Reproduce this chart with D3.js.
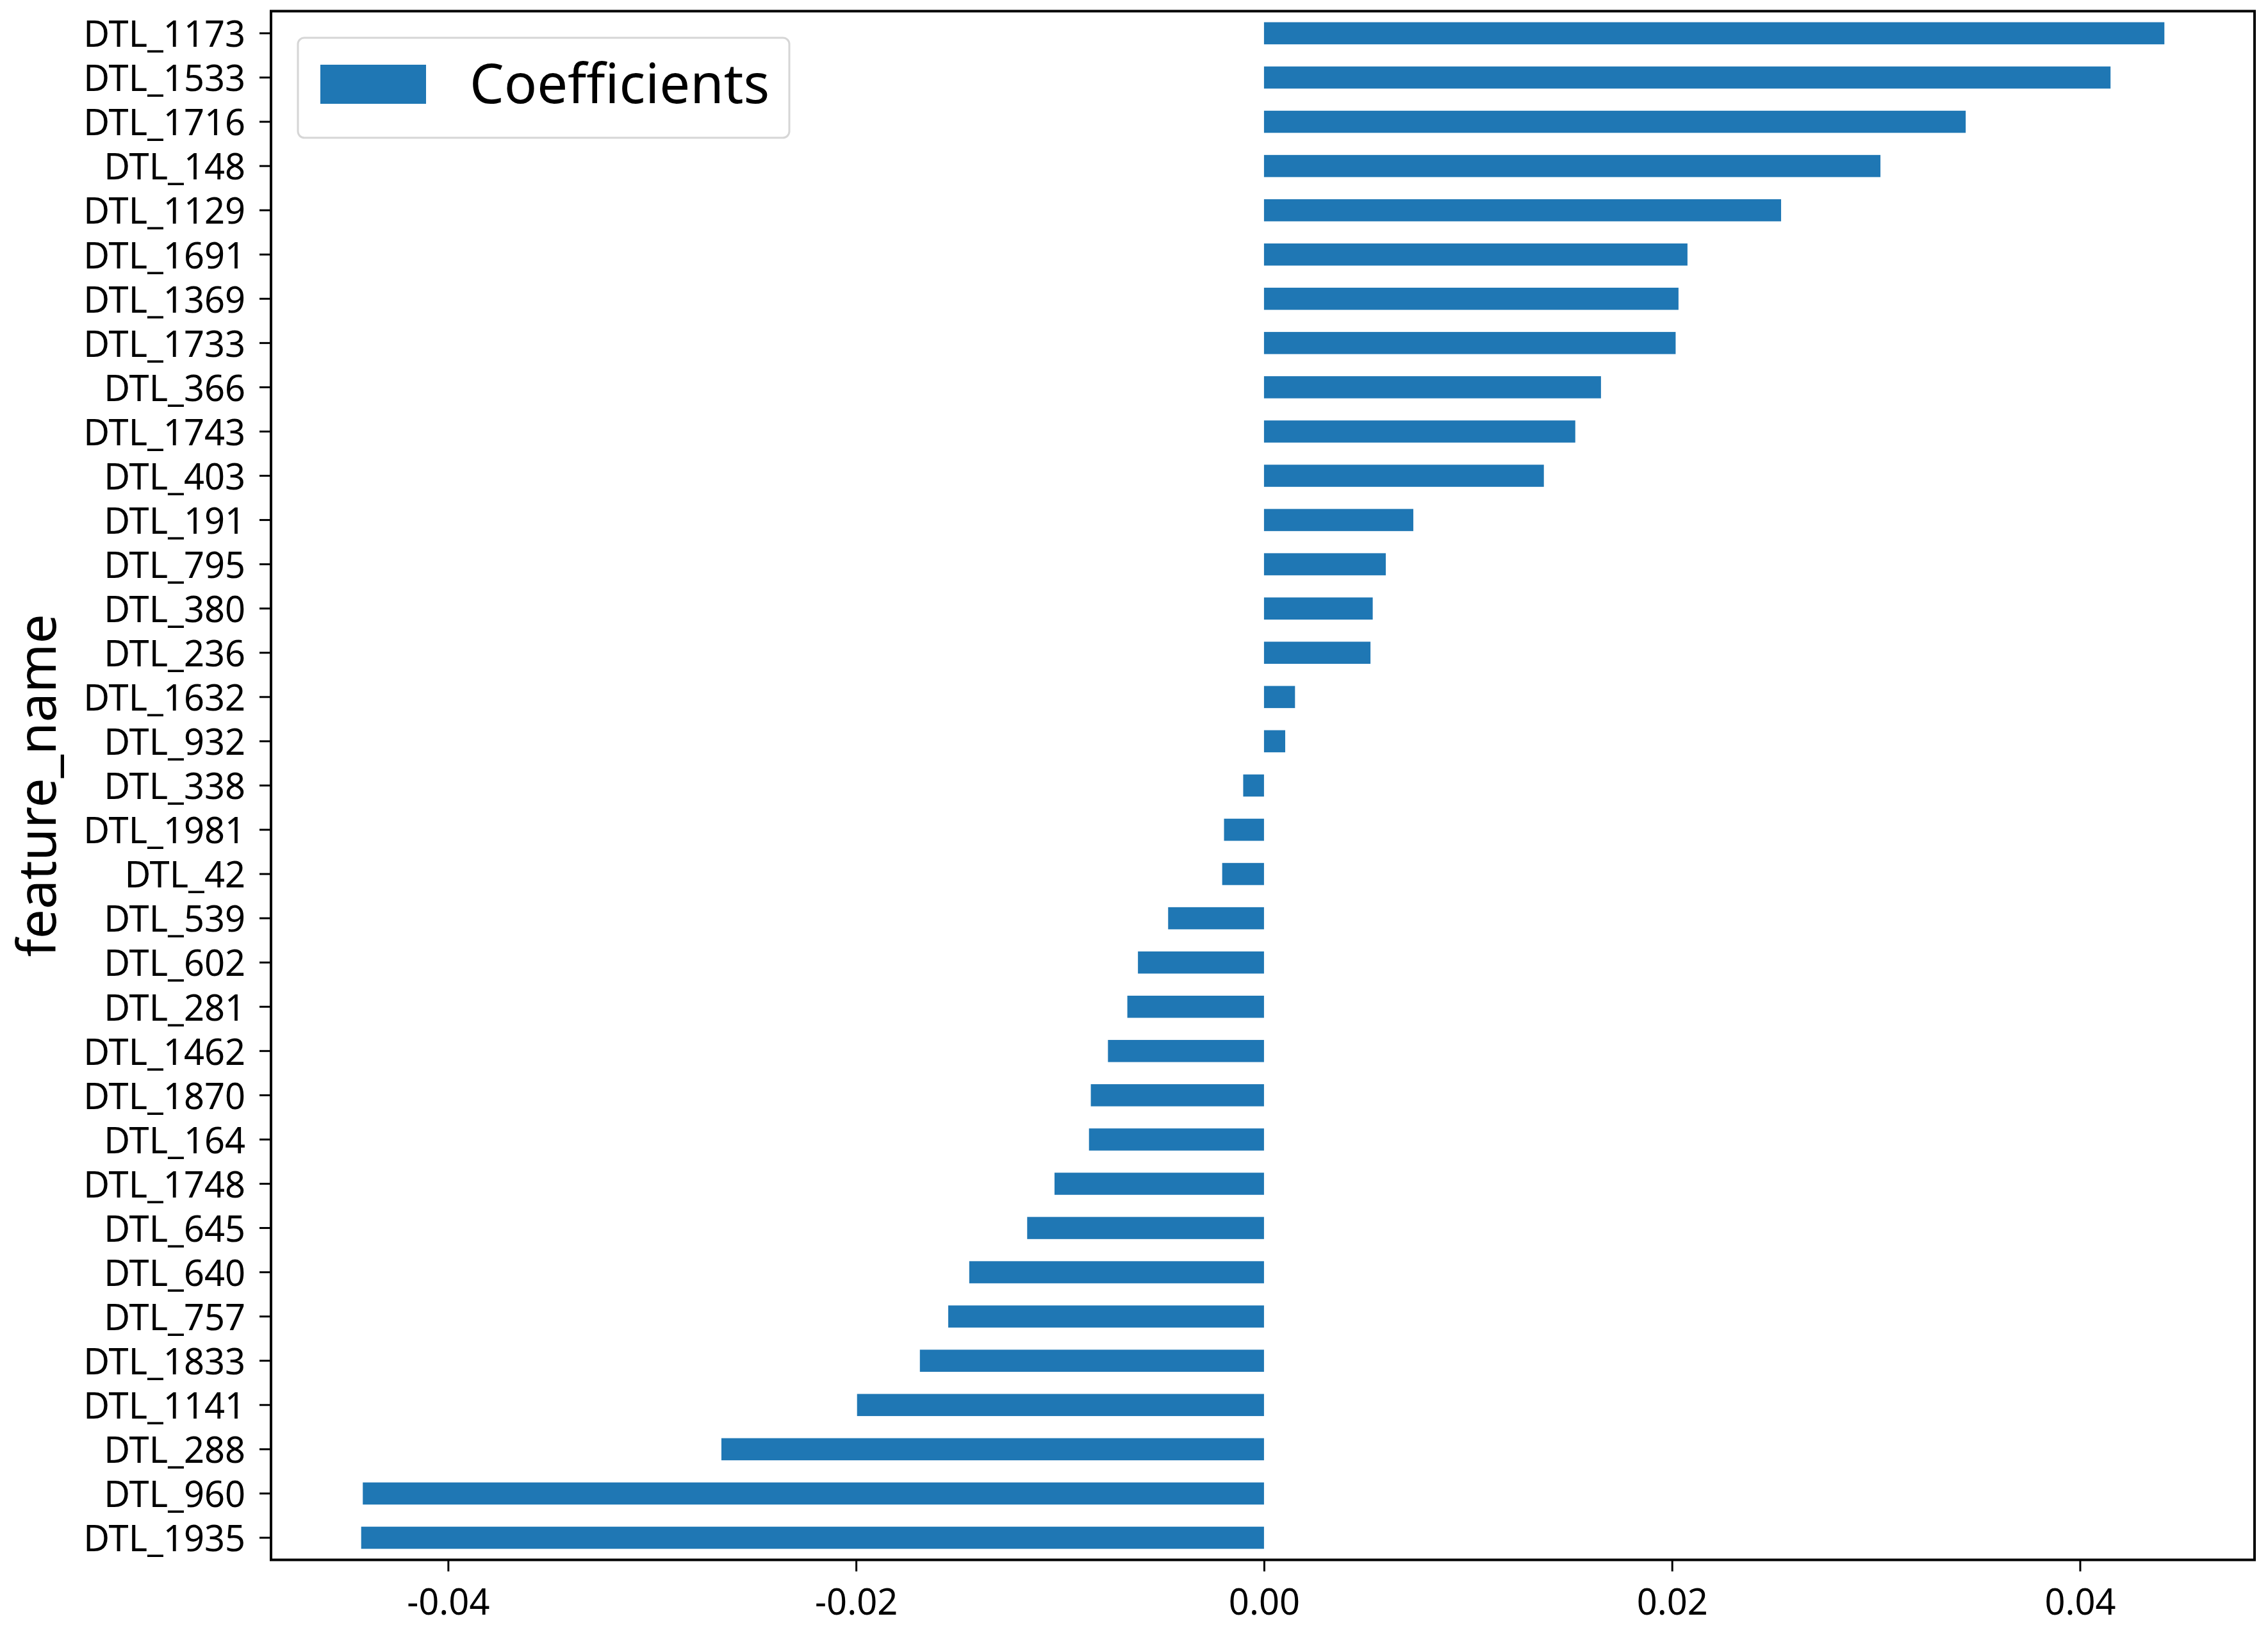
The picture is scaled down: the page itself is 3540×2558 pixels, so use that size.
<!DOCTYPE html>
<html>
<head>
<meta charset="utf-8">
<script src="https://cdn.jsdelivr.net/npm/d3@7"></script>
<style>
  body { margin: 0; background: #fff; }
  text { font-family: "Noto Sans", "Open Sans", sans-serif; fill: #000; }
</style>
</head>
<body>
<svg width="3540" height="2558"></svg>
<script>
// feature names, top to bottom
var features = ['DTL_1173', 'DTL_1533', 'DTL_1716', 'DTL_148', 'DTL_1129', 'DTL_1691',
  'DTL_1369', 'DTL_1733', 'DTL_366', 'DTL_1743', 'DTL_403', 'DTL_191', 'DTL_795',
  'DTL_380', 'DTL_236', 'DTL_1632', 'DTL_932', 'DTL_338', 'DTL_1981', 'DTL_42',
  'DTL_539', 'DTL_602', 'DTL_281', 'DTL_1462', 'DTL_1870', 'DTL_164', 'DTL_1748',
  'DTL_645', 'DTL_640', 'DTL_757', 'DTL_1833', 'DTL_1141', 'DTL_288', 'DTL_960',
  'DTL_1935'];

// coefficient per feature
var coefficients = [0.04414, 0.04150, 0.03440, 0.03022, 0.02535, 0.02076,
  0.02032, 0.02018, 0.01652, 0.01526, 0.01372, 0.00732, 0.00597,
  0.00533, 0.00522, 0.00152, 0.00104, -0.00102, -0.00196, -0.00205,
  -0.00470, -0.00618, -0.00670, -0.00765, -0.00849, -0.00858, -0.01027,
  -0.01161, -0.01445, -0.01548, -0.01687, -0.01995, -0.02660, -0.04418,
  -0.04426];

var xTicks = [-0.04, -0.02, 0.00, 0.02, 0.04];

var seriesName = 'Coefficients';
var yLabel = 'feature_name';

var data = features.map(function(d, i) {
  return { name: d, value: coefficients[i] };
});

var svg = d3.select('svg');
svg.append('rect').attr('width', 3540).attr('height', 2558).attr('fill', '#fff');

// plot box (window.top is reserved, so use other names)
var pLeft = 423, pRight = 3519, pTop = 17.4, pBottom = 2434.5;
var barColor = '#1f77b4';

// matplotlib style 5% margins
var lo = d3.min(coefficients), hi = d3.max(coefficients);
var pad = (hi - lo) * 0.05;
var x = d3.scaleLinear()
  .domain([lo - pad, hi + pad])
  .range([pLeft, pRight]);

var y = d3.scaleBand()
  .domain(features)
  .range([pTop, pBottom])
  .paddingInner(0.5)
  .paddingOuter(0.25);

// bars
svg.append('g')
  .selectAll('.bar')
  .data(data)
  .enter()
  .append('rect')
  .attr('class', 'bar')
  .attr('x', function(d) { return x(Math.min(0, d.value)); })
  .attr('width', function(d) { return Math.abs(x(d.value) - x(0)); })
  .attr('y', function(d) { return y(d.name); })
  .attr('height', y.bandwidth())
  .attr('fill', barColor);

// y axis
var yAxis = svg.append('g')
  .attr('transform', 'translate(' + pLeft + ',0)')
  .call(d3.axisLeft(y).tickSize(18).tickPadding(22).tickSizeOuter(0));
yAxis.select('.domain').remove();
yAxis.selectAll('.tick line').attr('stroke', '#000').attr('stroke-width', 3);
yAxis.selectAll('.tick text')
  .attr('font-size', 56)
  .attr('dy', '0.38em')
  .attr('font-family', '"Noto Sans", sans-serif')
  .attr('fill', '#000');

// x axis
var xAxis = svg.append('g')
  .attr('transform', 'translate(0,' + pBottom + ')')
  .call(d3.axisBottom(x)
    .tickValues(xTicks)
    .tickSize(18)
    .tickPadding(28)
    .tickSizeOuter(0)
    .tickFormat(function(d) { return d3.format('.2f')(d).replace('\u2212', '-'); }));
xAxis.select('.domain').remove();
xAxis.selectAll('.tick line').attr('stroke', '#000').attr('stroke-width', 3);
xAxis.selectAll('.tick text')
  .attr('font-size', 56)
  .attr('font-family', '"Noto Sans", sans-serif')
  .attr('fill', '#000');

// frame
svg.append('rect')
  .attr('x', pLeft)
  .attr('y', pTop)
  .attr('width', pRight - pLeft)
  .attr('height', pBottom - pTop)
  .attr('fill', 'none')
  .attr('stroke', '#000')
  .attr('stroke-width', 4);

// y label
svg.append('text')
  .attr('transform', 'translate(87,' + (pTop + pBottom) / 2 + ') rotate(-90)')
  .attr('text-anchor', 'middle')
  .attr('font-size', 82)
  .text(yLabel);

// legend
var legend = svg.append('g');
legend.append('rect')
  .attr('x', 465)
  .attr('y', 59)
  .attr('width', 767)
  .attr('height', 156)
  .attr('rx', 10)
  .attr('fill', '#fff')
  .attr('fill-opacity', 0.8)
  .attr('stroke', '#d6d6d6')
  .attr('stroke-width', 3);
legend.append('rect')
  .attr('x', 500)
  .attr('y', 101)
  .attr('width', 165)
  .attr('height', 61)
  .attr('fill', barColor);
legend.append('text')
  .attr('x', 733)
  .attr('y', 161)
  .attr('font-size', 85)
  .text(seriesName);
</script>
</body>
</html>
